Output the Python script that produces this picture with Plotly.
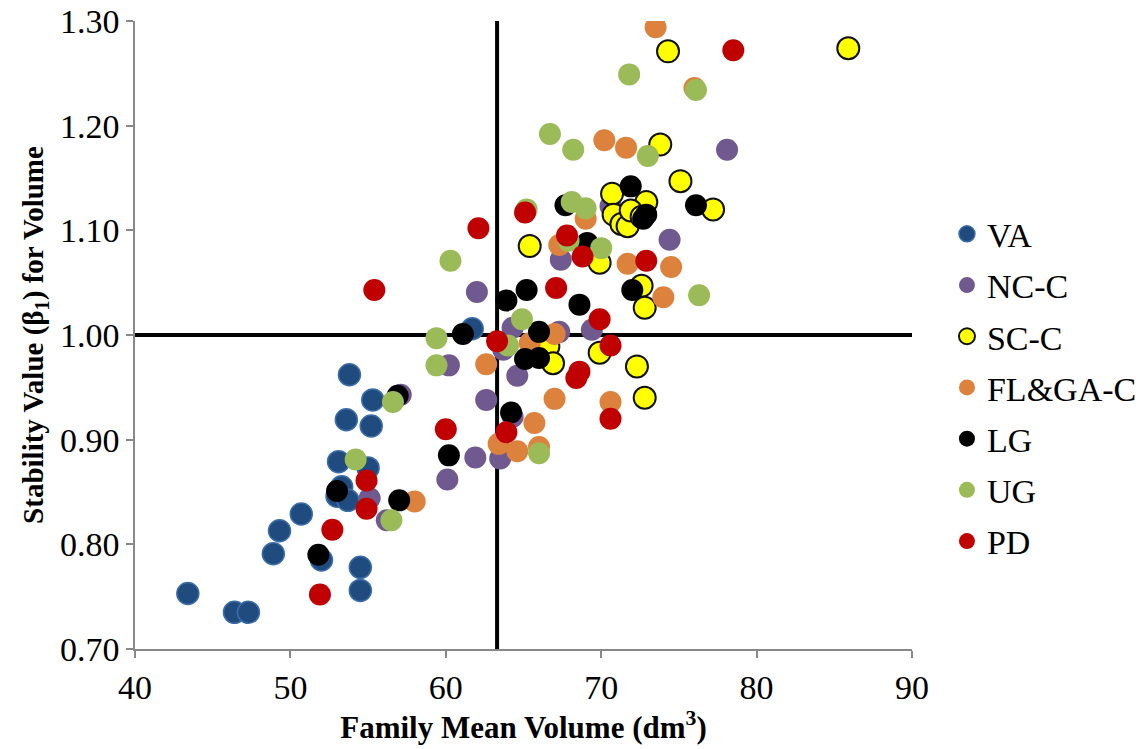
import plotly.graph_objects as go

# ---- data ----
va_x = [43.4, 46.4, 47.3, 48.9, 49.3, 50.7, 52.0, 54.5, 54.5, 53.8, 55.3, 53.6, 55.2,
        53.1, 55.0, 53.3, 53.0, 53.7, 61.7]
va_y = [0.753, 0.735, 0.735, 0.791, 0.813, 0.829, 0.785, 0.778, 0.756, 0.962, 0.938, 0.919, 0.913,
        0.879, 0.873, 0.855, 0.846, 0.842, 1.006]

ncc_x = [57.1, 55.1, 56.2, 62.0, 60.2, 62.6, 64.6, 61.9, 60.1, 63.5, 67.4, 74.4, 69.4,
         67.3, 64.3, 63.7, 64.3, 78.1, 70.6]
ncc_y = [0.943, 0.844, 0.823, 1.041, 0.971, 0.938, 0.961, 0.883, 0.862, 0.882, 1.072, 1.091, 1.005,
         1.003, 1.007, 0.986, 0.922, 1.177, 1.123]

scc_x = [85.9, 74.3, 73.8, 75.1, 70.7, 77.2, 72.9, 70.8, 71.3, 71.7, 71.9, 72.6, 65.4,
         69.9, 72.6, 72.8, 66.6, 66.9, 69.9, 72.3, 72.8]
scc_y = [1.274, 1.271, 1.182, 1.147, 1.135, 1.120, 1.127, 1.115, 1.106, 1.104, 1.119, 1.113, 1.085,
         1.069, 1.047, 1.026, 0.989, 0.973, 0.983, 0.970, 0.940]

flga_x = [73.5, 76.0, 70.2, 71.6, 71.7, 74.5, 74.0, 69.0, 67.3, 62.6, 65.4, 67.0, 67.0,
          70.6, 65.7, 63.4, 64.6, 66.0, 58.0]
flga_y = [1.294, 1.236, 1.186, 1.179, 1.068, 1.065, 1.036, 1.111, 1.086, 0.972, 0.992, 1.001, 0.939,
          0.936, 0.916, 0.896, 0.889, 0.893, 0.841]

lg_x = [51.8, 53.0, 57.0, 56.9, 61.1, 63.9, 65.2, 68.6, 66.0, 65.1, 66.0, 60.2, 64.2,
        69.1, 67.7, 72.0, 71.9, 76.1, 72.7, 72.9]
lg_y = [0.790, 0.851, 0.842, 0.942, 1.001, 1.033, 1.043, 1.029, 1.003, 0.977, 0.978, 0.885, 0.926,
        1.088, 1.124, 1.043, 1.142, 1.124, 1.111, 1.115]

ug_x = [71.8, 76.1, 73.0, 76.3, 70.0, 60.3, 59.4, 59.4, 64.9, 64.0, 66.0, 67.9, 65.2,
        68.1, 69.0, 66.7, 68.2, 54.2, 56.6, 56.5]
ug_y = [1.249, 1.234, 1.171, 1.038, 1.083, 1.071, 0.997, 0.971, 1.015, 0.990, 0.887, 1.090, 1.120,
        1.127, 1.121, 1.192, 1.177, 0.881, 0.936, 0.823]

pd_x = [78.5, 55.4, 54.9, 54.9, 52.7, 51.9, 62.1, 65.1, 67.8, 68.8, 72.9, 67.1, 69.9,
        63.3, 70.6, 68.6, 68.4, 70.6, 60.0, 63.9]
pd_y = [1.272, 1.043, 0.861, 0.834, 0.814, 0.752, 1.102, 1.117, 1.095, 1.075, 1.071, 1.045, 1.015,
        0.994, 0.990, 0.965, 0.959, 0.920, 0.910, 0.907]

series_names = ["VA", "NC-C", "SC-C", "FL&GA-C", "LG", "UG", "PD"]
x_ticks = [40, 50, 60, 70, 80, 90]
y_ticks = [0.70, 0.80, 0.90, 1.00, 1.10, 1.20, 1.30]
mean_volume = 63.3      # vertical reference line
ref_stability = 1.00    # horizontal reference line

# ---- styling ----
series = [
    (va_x, va_y, "#1F4B7F", dict(color="#3C6DA8", width=1.5)),
    (ncc_x, ncc_y, "#70598F", dict(color="#70598F", width=0)),
    (scc_x, scc_y, "#FFFF00", dict(color="#111111", width=2)),
    (flga_x, flga_y, "#DD823C", dict(color="#DD823C", width=0)),
    (lg_x, lg_y, "#000000", dict(color="#000000", width=0)),
    (ug_x, ug_y, "#9BBB59", dict(color="#9BBB59", width=0)),
    (pd_x, pd_y, "#C00000", dict(color="#C00000", width=0)),
]

fig = go.Figure()
for name, (xs, ys, col, line) in zip(series_names, series):
    fig.add_trace(go.Scatter(
        x=xs, y=ys, mode="markers", name=name, legendgroup=name,
        marker=dict(size=22, color=col, line=line, opacity=1),
    ))

fig.add_shape(type="line", x0=mean_volume, x1=mean_volume, y0=0.70, y1=1.30,
              xref="x", yref="y", line=dict(color="black", width=4), layer="below")
fig.add_shape(type="line", x0=40, x1=90, y0=ref_stability, y1=ref_stability,
              xref="x", yref="y", line=dict(color="black", width=4), layer="below")

font_family = "Liberation Serif"
fig.update_layout(
    width=1142, height=749,
    margin=dict(l=135, r=230, t=21, b=100, autoexpand=False),
    paper_bgcolor="white", plot_bgcolor="white",
    font=dict(family=font_family, size=32, color="black"),
    showlegend=True,
    legend=dict(x=1.045, y=0.416, xanchor="left", yanchor="middle",
                font=dict(size=34, family=font_family),
                tracegroupgap=4, itemsizing="trace"),
    xaxis=dict(range=[40, 90], tickvals=x_ticks, ticktext=[str(v) for v in x_ticks],
               showgrid=False, zeroline=False, showline=True, linecolor="#888888", linewidth=1.5,
               ticks="outside", ticklen=7, tickcolor="#888888", tickwidth=1.5, automargin=False,
               tickfont=dict(size=34, family=font_family), ticklabeloverflow="allow",
               title=dict(text="<b>Family Mean Volume (dm<sup>3</sup>)</b>",
                          font=dict(size=31, family=font_family), standoff=8)),
    yaxis=dict(range=[0.70, 1.30], tickvals=y_ticks, ticktext=[f"{v:.2f}" for v in y_ticks],
               showgrid=False, zeroline=False, showline=True, linecolor="#888888", linewidth=1.5,
               ticks="outside", ticklen=7, tickcolor="#888888", tickwidth=1.5, automargin=False,
               tickfont=dict(size=34, family=font_family), ticklabeloverflow="allow",
               title=dict(text="<b>Stability Value (β<sub>1</sub>) for Volume</b>",
                          font=dict(size=29, family=font_family), standoff=8)),
)

# remove the default 8px page margin so the figure fills the window exactly
fig.write_html("out.html", config={"displayModeBar": False},
               post_script="document.body.style.margin='0';")
